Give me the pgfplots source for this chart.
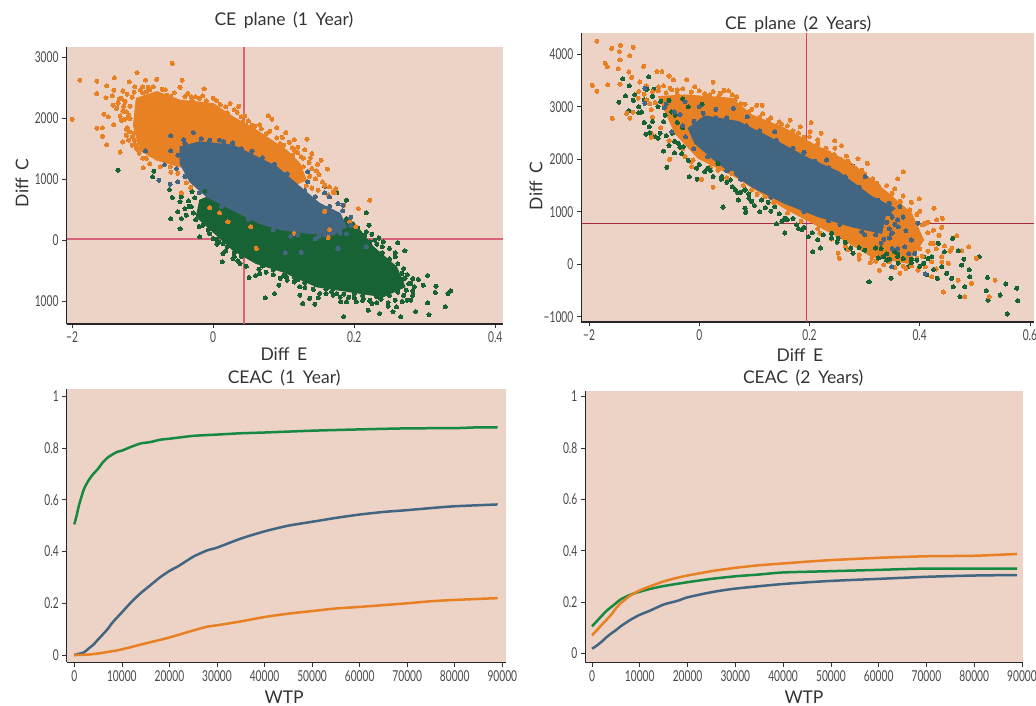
\documentclass[border=0pt]{standalone}
\usepackage{pgfplots}
\pgfplotsset{compat=1.18}
\usepackage{fontspec}
\setmainfont{Lato}[WordSpace=1.7]
\newfontfamily\tickf[FakeStretch=0.68]{Lato}
\definecolor{bg}{HTML}{EDD2C6}
\definecolor{org}{HTML}{E88024}
\definecolor{blu}{HTML}{426682}
\definecolor{grn}{HTML}{186335}
\definecolor{lgrn}{HTML}{158A40}
\definecolor{txt}{HTML}{333333}
\definecolor{refa}{HTML}{D9627E}
\definecolor{refb}{HTML}{D6405F}
\definecolor{refc}{HTML}{A82A40}
\pgfplotsset{
  every axis title shift=0pt,
  base/.style={scale only axis, axis x line*=bottom, axis y line*=left,
    axis line style={black!85,line width=1.1pt,-}, tick style={black!80,line width=0.7pt},
    tick align=outside, major tick length=4.5pt, clip=true,
    axis background/.style={fill=bg},
    tick label style={font=\tickf\fontsize{15}{15}\selectfont,text=txt!90},
    xtick pos=bottom, ytick pos=left, scaled ticks=false,
    title style={font=\fontsize{17.5}{19}\selectfont,text=txt,anchor=center},
    xlabel style={font=\fontsize{17.5}{19}\selectfont,text=txt,anchor=center},
    ylabel style={font=\fontsize{17.5}{19}\selectfont,text=txt,anchor=center}},
  pts/.style={only marks,color=#1,mark=*,mark size=2.05pt,mark options={solid,draw=#1,fill=#1,line width=0pt}},
  cloud/.style={fill=#1,draw=#1,line width=1pt,forget plot},
  curve/.style={color=#1,line width=2.5pt,no marks,smooth,tension=0.4},
  ceac/.style={base,xmin=-1600,xmax=90770,ymin=-0.028,ymax=1.027,
    xtick={0,10000,...,90000},xticklabels={0,10000,20000,30000,40000,50000,60000,70000,80000,90000},
    ytick={0,0.2,0.4,0.6,0.8,1},yticklabels={0,0.2,0.4,0.6,0.8,1},xlabel={WTP}}
}
\begin{document}
\begin{tikzpicture}[x=1pt,y=1pt]
\useasboundingbox (0,0) rectangle (1036,706);
% Where a cloud is saturated its single points cannot be read, so the solid core
% is an area in data coordinates; points visible around it are plotted one by one.
\begin{axis}[base,at={(66.5pt,382pt)},anchor=south west,width=436.5pt,height=277pt,
  xmin=-0.208,xmax=0.411,ymin=-1369,ymax=3172,
  xtick={-0.2,0,0.2,0.4},xticklabels={−2,0,0.2,0.4},
  ytick={-1000,0,1000,2000,3000},yticklabels={1000,0,1000,2000,3000},
  title={CE plane (1 Year)},title style={at={(axis description cs:0.498,1.095)}},
  xlabel={Diff E},xlabel style={at={(axis description cs:0.498,-0.108)}},
  ylabel={Diff C},ylabel style={at={(axis description cs:-0.102,0.509)}}]
\addplot[refa,line width=1.3pt,forget plot] coordinates {(0.0435,-1369)(0.0435,3172)};
\addplot[refa,line width=1.1pt,forget plot] coordinates {(-0.208,25)(0.411,25)};
\addplot[cloud=grn] coordinates {(-0.019,661)(0.010,800)(0.080,600)(0.199,300)(0.227,-104)(0.260,-432)(0.272,-760)(0.241,-923)(0.194,-841)(0.147,-760)(0.099,-514)(0.061,-377)(0.028,-158)(0.005,87)(-0.024,388)} --cycle;
\addplot[pts=grn] coordinates {(-0.135,1153)(-0.084,1135)(-0.086,1045)(-0.062,835)(-0.058,705)(-0.047,635)(-0.050,470)(-0.060,355)(-0.045,360)(-0.047,190)(-0.038,415)(-0.031,550)(-0.019,60)(-0.007,170)(0,33)(0.014,-213)(0.013,-350)(0.028,-295)(0.047,-420)(0.051,-606)(0.060,-574)(0.074,-940)(0.087,-869)(0.093,-732)(0.123,-896)(0.127,-1033)(0.144,-1044)(0.149,-940)(0.137,-950)(0.170,-896)(0.181,-1005)(0.185,-1246)(0.203,-1005)(0.225,-1033)(0.220,-1142)(0.236,-1197)(0.248,-1076)(0.260,-1087)(0.255,-1170)(0.266,-1251)(0.280,-978)(0.287,-1164)(0.306,-1218)(0.304,-1022)(0.329,-1087)(0.333,-869)(0.337,-825)(0.315,-852)(0.316,-748)(0.304,-574)(0.298,-732)(0.291,-639)(0.283,-623)(0.272,-170)(0.262,-38)(0.258,-268)(0.241,-22)(0.229,5)(0.217,142)(0.221,251)(0.217,454)(0.189,661)(0.175,781)(0.158,890)(0.189,360)(0.274,-814)(0.270,-459)(0.277,-705)(0.262,-760)(0.248,-760)(0.232,-923)(0.213,-951)(0.189,-1005)(0.175,-869)(0.151,-869)(0.123,-760)(0.104,-596)(0.066,-541)(0.038,-377)(0.014,-49)
(0.030,-200)(0.040,-260)(0.055,-300)(0.070,-420)(0.085,-480)(0.100,-570)(0.115,-600)(0.130,-690)(0.145,-720)(0.160,-800)(0.172,-780)(0.185,-880)(0.200,-870)(0.212,-900)(0.225,-860)(0.238,-960)(0.250,-900)(0.262,-850)(0.270,-900)(0.283,-820)(0.280,-700)(0.272,-620)(0.268,-540)(0.262,-380)(0.250,-300)(0.240,-200)(0.232,-60)(0.222,-20)(0.205,100)(0.208,30)(0.018,250)(0.010,150)(0.002,240)(-0.010,300)(-0.020,230)(-0.028,450)(-0.034,560)(-0.026,700)(-0.012,620)(0.000,500)(0.008,-30)(0.020,-110)(0.005,20)(0.045,-210)(0.080,-380)(0.120,-640)(0.155,-740)(0.210,-800)(0.245,-700)(0.275,-560)
(0.285,-760)(0.283,-900)(0.275,-980)(0.268,-1000)(0.258,-980)(0.248,-1020)(0.232,-1020)(0.222,-980)(0.212,-980)(0.200,-940)(0.192,-930)(0.180,-930)(0.168,-840)(0.160,-870)(0.142,-800)(0.130,-770)(0.115,-680)(0.105,-650)(0.095,-620)(0.085,-560)(0.075,-520)(0.065,-470)(0.240,-580)(0.255,-560)(0.268,-640)(0.245,-400)(0.258,-200)(0.240,-100)(0.250,-130)(0.235,40)(0.225,100)(0.215,90)(0.205,200)(-0.040,520)(-0.035,650)(-0.045,720)(-0.030,800)(-0.020,780)(-0.012,810)(-0.025,340)(-0.015,250)(-0.005,110)(0.005,-60)(0.018,-170)(0.030,-260)(0.035,-330)};
\addplot[cloud=org] coordinates {(-0.113,1890)(-0.109,2330)(-0.080,2440)(-0.047,2300)(0,2245)(0.028,2027)(0.061,1810)(0.104,1480)(0.123,1260)(0.132,990)(0.109,880)(-0.047,1207)(-0.080,1317)(-0.104,1480)} --cycle;
\addplot[pts=org] coordinates {(-0.200,1985)(-0.189,2630)(-0.165,2610)(-0.165,2410)(-0.151,2535)(-0.140,2670)(-0.141,2465)(-0.152,2340)(-0.143,2370)(-0.133,2320)(-0.119,2600)(-0.111,2520)(-0.108,2750)(-0.096,2630)(-0.080,2640)(-0.092,2510)(-0.128,2450)(-0.142,2220)(-0.137,2165)(-0.127,2200)(-0.155,2070)(-0.149,2030)(-0.165,1840)(-0.157,1850)(-0.141,1900)(-0.130,1970)(-0.123,2110)(-0.157,1710)(-0.151,1570)(-0.123,1725)(-0.128,1615)(-0.120,1645)(-0.132,1450)(-0.105,1430)(-0.099,1190)(-0.095,1345)(-0.058,2905)(-0.044,2630)(-0.047,2510)(-0.013,2485)(-0.031,2355)(0,2330)(0.024,2245)(0.036,2200)(0.045,2045)(0.078,2045)(0.083,1990)(0.059,1875)(0.090,1850)(0.103,1770)(0.115,1655)(0.133,1660)(0.140,1425)(0.153,1315)(0.162,1170)(0.146,1140)(0.158,905)(0.149,825)(0.163,745)(0.174,850)(0.222,660)(0.206,525)(0.194,305)(0.185,580)(0.202,225)(0.158,480)(-0.005,540)(0.009,455)(0.021,305)(0.061,-130)(0.053,225)(0.115,115)(0.163,50)(0.165,180)(-0.045,780)(-0.038,945)(-0.061,1210)(-0.057,1370)(-0.085,1425)(0.076,1645)(0.095,1590)(0.113,1400)(0.128,1210)(0.047,1890)(0.014,2080)(-0.019,2330)(-0.066,2380)(-0.095,2440)
(-0.118,2000)(-0.122,1850)(-0.118,2200)(-0.115,2350)(-0.100,2420)(-0.090,2470)(-0.072,2480)(-0.060,2360)(-0.040,2360)(-0.030,2300)(-0.010,2290)(0.010,2230)(0.020,2090)(0.034,2100)(0.042,1950)(0.055,1890)(0.068,1830)(0.075,1750)(0.090,1680)(0.100,1560)(0.112,1520)(0.120,1440)(0.128,1350)(0.136,1280)(0.140,1180)(0.137,1050)(0.115,1480)(-0.110,1560)(-0.115,1700)(-0.100,1350)(-0.090,1260)(-0.075,1210)(-0.060,1120)(-0.050,1100)(-0.040,1050)(-0.032,870)(0.125,1370)
(-0.135,2250)(-0.130,2330)(-0.125,2280)(-0.128,2120)(-0.120,2050)(-0.125,1990)(-0.132,2040)(-0.118,1780)(-0.123,1820)(-0.112,1640)(-0.115,1560)(-0.108,1500)(-0.122,2400)(-0.112,2430)(-0.103,2470)(-0.112,1760)(-0.100,2520)(-0.085,2520)(-0.068,2470)(-0.055,2420)(-0.036,2410)(-0.025,2360)(-0.015,2370)(0.005,2290)(0.018,2190)(0.030,2140)(0.040,2030)(0.050,1960)(0.066,1900)(0.080,1790)(0.098,1690)(0.108,1610)(0.120,1530)(0.130,1490)(0.138,1360)(0.148,1250)(0.150,1080)(0.145,1010)(0.155,960)(0.165,880)(0.170,800)(0.172,780)(0.140,860)(0.132,900)};
\addplot[cloud=blu] coordinates {(-0.047,1535)(-0.019,1617)(0.028,1563)(0.057,1399)(0.090,1208)(0.123,880)(0.151,607)(0.180,443)(0.189,224)(0.170,87)(0.137,115)(0.099,170)(0.066,279)(0.028,497)(-0.009,716)(-0.033,962)(-0.047,1262)} --cycle;
\addplot[pts=blu] coordinates {(-0.060,1715)(-0.028,1770)(-0.096,1470)(-0.077,990)(-0.061,925)(-0.050,960)(-0.069,1245)(-0.060,1470)(-0.042,1655)(-0.017,1670)(0.009,1645)(0.028,1600)(0.055,1465)(0.087,1250)(0.134,1130)(0.134,960)(0.158,780)(0.165,715)(0.184,580)(0.184,485)(0.177,605)(0.102,-200)(0.125,-195)(0.177,-130)(0.217,-105)(0.158,90)(0.189,115)(0.173,225)
(-0.040,1590)(-0.005,1640)(0.015,1620)(0.040,1500)(0.070,1360)(0.105,1090)(0.130,820)(0.145,720)(0.165,560)(0.195,380)(0.195,250)(0.180,120)(0.150,60)(0.120,90)(0.085,180)(0.050,350)(0.012,560)(-0.020,780)(-0.040,1050)(-0.052,1180)(-0.050,1400)(0.110,70)(0.145,30)};
\end{axis}
\begin{axis}[base,at={(581.3pt,384pt)},anchor=south west,width=452.7pt,height=289pt,
  xmin=-0.2142,xmax=0.6075,ymin=-1098,ymax=4403,
  xtick={-0.2,0,0.2,0.4,0.6},xticklabels={−2,0,0.2,0.4,0.6},
  ytick={-1000,0,1000,2000,3000,4000},yticklabels={−1000,0,1000,2000,3000,4000},
  title={CE plane (2 Years)},title style={at={(axis description cs:0.479,1.031)}},
  xlabel={Diff E},xlabel style={at={(axis description cs:0.483,-0.114)}},
  ylabel={Diff C},ylabel style={at={(axis description cs:-0.100,0.471)}}]
\addplot[refb,line width=0.9pt,forget plot] coordinates {(0.195,-1098)(0.195,4403)};
\addplot[refc,line width=0.9pt,forget plot] coordinates {(-0.2142,780)(0.6075,780)};
\addplot[pts=grn] coordinates {(-0.139,3530)(-0.127,3400)(-0.092,3570)(-0.134,3205)(-0.117,3225)(-0.146,3085)(-0.128,2925)(-0.110,2885)(-0.083,3330)(-0.100,3130)(-0.097,2475)(-0.091,2620)(-0.071,2495)(-0.080,2430)(-0.065,2715)(-0.062,2840)(-0.044,2840)(-0.049,2495)(-0.038,2305)(-0.029,2240)(-0.065,2155)(-0.059,1845)(-0.032,2110)(-0.018,1670)(-0.004,1620)(0.010,1765)(0.025,1670)(0.034,1920)(0.041,1670)(0.056,1605)(0.065,1415)(0.083,1415)(0.071,1225)(0.083,1065)(0.084,990)(0.043,1090)(0.113,1225)(0.110,1000)(0.137,1100)(0.140,770)(0.155,875)(0.155,595)(0.177,750)(0.186,655)(0.198,525)(0.206,240)(0.220,310)(0.240,590)(0.252,495)(0.267,305)(0.279,210)(0.308,-335)(0.348,-265)(0.334,145)(0.355,240)(0.361,20)(0.379,-45)(0.407,20)(0.413,-200)(0.432,-265)(0.434,400)(0.460,495)(0.449,-170)(0.458,-265)(0.461,-425)(0.482,-425)(0.491,-235)(0.473,-615)(0.508,145)(0.476,-15)(0.523,-250)(0.521,-500)(0.524,-680)(0.546,-585)(0.556,-375)(0.576,-455)(0.578,-690)(0.559,-945)(0.422,145)(0.407,145)(0.279,1870)};
\addplot[cloud=org] coordinates {(-0.074,3192)(-0.026,3223)(0.059,3160)(0.095,2843)(0.155,2589)(0.204,2303)(0.276,1923)(0.343,1351)(0.385,971)(0.407,463)(0.379,19)(0.313,146)(0.252,527)(0.155,1066)(0.065,1669)(-0.002,2018)(-0.044,2494)} --cycle;
\addplot[pts=org] coordinates {(-0.186,4245)(-0.159,4110)(-0.143,4170)(-0.120,4130)(-0.145,4050)(-0.126,3970)(-0.144,3890)(-0.171,3825)(-0.167,3760)(-0.147,3725)(-0.128,3660)(-0.101,3770)(-0.077,3670)(-0.068,3670)(-0.123,3560)(-0.194,3405)(-0.186,3295)(-0.166,3415)(-0.144,3430)(-0.108,3470)(-0.096,3395)(-0.074,3380)(-0.055,3585)(-0.047,3510)(-0.053,3350)(-0.040,3320)(-0.023,3510)(0.025,3465)(-0.008,3380)(-0.158,2780)(-0.132,2875)(-0.120,2895)(-0.126,2780)(-0.111,3160)(-0.099,3350)(-0.087,2420)(-0.054,2000)(-0.011,1985)(0.004,1620)(0.025,1470)(0.053,3305)(0.038,3255)(0.019,3225)(0.068,3190)(0.083,3045)(0.104,3025)(0.114,3025)(0.125,2745)(0.149,2670)(0.165,2745)(0.183,2620)(0.203,2700)(0.201,2525)(0.221,2495)(0.246,2355)(0.258,2260)(0.267,2060)(0.246,2210)(0.288,2010)(0.305,1920)(0.279,1860)(0.370,1760)(0.360,1625)(0.322,1540)(0.399,1245)(0.426,1070)(0.441,875)(0.431,845)(0.440,705)(0.410,780)(0.382,1035)(0.467,545)(0.425,400)(0.489,335)(0.476,260)(0.458,305)(0.440,145)(0.452,20)(0.422,-235)(0.443,-527)(0.482,-615)(0.470,-300)(0.494,-360)(0.537,-300)(0.526,-615)(0.503,115)(0.422,50)(0.397,-110)(0.364,-170)(0.327,-115)(0.313,115)(0.252,210)(0.254,115)(0.219,590)(0.168,1035)(0.119,1290)(0.095,1415)(0.059,1730)(0.034,1795)(-0.014,1860)(-0.026,2050)(-0.087,2940)(-0.087,2495)
(-0.080,3080)(-0.060,3260)(-0.040,3240)(-0.015,3280)(0.010,3250)(0.035,3200)(0.060,3230)(0.075,2960)(0.090,2900)(0.110,2800)(0.125,2720)(0.140,2640)(0.170,2540)(0.190,2420)(0.215,2290)(0.235,2120)(0.255,2000)(0.285,1820)(0.300,1720)(0.325,1500)(0.350,1350)(0.365,1200)(0.395,950)(0.405,750)(0.415,600)(0.420,400)(0.400,300)(0.395,120)(0.370,-40)(0.345,50)(0.320,60)(0.290,180)(0.265,350)(0.240,480)(0.215,680)(0.185,820)(0.160,980)(0.135,1170)(0.105,1330)(0.080,1500)(0.050,1650)(0.020,1850)(-0.015,1950)(-0.030,2200)(-0.055,2350)(-0.070,2600)(-0.085,2800)
(-0.110,3290)(-0.100,3240)(-0.095,3130)(-0.090,3060)(-0.085,3290)(-0.075,3300)(-0.065,3400)(-0.050,3320)(-0.030,3340)(0.000,3300)(0.025,3290)(0.045,3310)(0.065,3120)(0.075,3060)(0.095,2950)(0.115,2870)(0.130,2790)(0.145,2710)(0.160,2640)(0.180,2500)(0.200,2430)(0.215,2370)(0.230,2210)(0.245,2090)(0.270,1960)(0.295,1790)(0.315,1630)(0.340,1500)(0.355,1440)(0.370,1300)(0.385,1180)(0.400,1010)(0.415,800)(0.425,650)(0.435,550)(0.430,300)(0.415,250)(0.405,150)(0.385,-30)(0.375,-80)(0.355,-60)(0.335,-10)(0.310,30)(0.290,100)(0.270,280)(0.445,350)(0.455,250)(0.410,-50)(0.430,-90)(0.440,40)};
\addplot[pts=grn] coordinates {(-0.065,2715)(-0.044,2840)(-0.038,2305)(-0.029,2240)(0.041,1670)(0.065,1415)(0.083,1415)(0.113,1225)(0.155,875)(0.186,655)(0.252,495)(0.334,145)(0.355,240)(0.407,20)
(0.000,1900)(0.015,1830)(0.050,1560)(0.075,1370)(0.090,1340)(0.095,1200)(0.125,1180)(0.130,1010)(0.145,960)(0.160,850)(0.170,870)(0.190,700)(0.205,600)(0.225,560)(0.240,500)(0.265,420)(0.290,320)(0.320,310)(0.340,200)(0.370,110)(0.395,80)(-0.045,2340)(-0.035,2230)(-0.060,2450)(-0.085,2720)(-0.105,2900)(-0.075,3000)(-0.055,3120)(-0.030,3150)
(0.385,30)(0.400,-40)(0.415,110)(0.425,-100)(0.440,-50)(0.445,240)(0.470,260)(0.480,100)(0.490,-100)(0.360,150)(0.345,100)(0.325,120)(0.300,270)(0.275,310)(0.250,420)(0.215,470)(0.180,680)(0.150,820)(0.120,1080)(0.100,1120)(0.090,1260)(0.070,1360)(0.060,1480)(0.040,1620)(0.020,1790)(-0.005,1830)(-0.020,1980)(-0.045,2120)(-0.055,2260)(-0.075,2400)(-0.090,2500)(-0.100,2700)(-0.110,3000)(-0.120,3120)(-0.095,3330)(-0.085,3200)(-0.070,3100)
(-0.040,2700)(-0.030,2600)(-0.050,2900)(-0.020,3000)(0.005,3050)(0.330,300)(0.340,80)(0.360,200)(0.385,100)};
\addplot[cloud=blu] coordinates {(-0.020,2589)(0.010,2824)(0.071,2716)(0.125,2430)(0.198,2018)(0.252,1764)(0.313,1288)(0.355,1066)(0.337,907)(0.331,590)(0.276,717)(0.216,907)(0.155,1161)(0.095,1478)(0.034,1923)(-0.008,2303)} --cycle;
\addplot[pts=blu] coordinates {(-0.064,2980)(-0.099,3350)(-0.099,3065)(0.062,2970)(0.087,2810)(0.190,2130)(0.364,1100)(0.397,780)(0.361,717)(0.385,463)(0.349,-45)(0.410,-185)(-0.050,2525)(-0.026,3095)(0.007,2875)(0.137,2525)(0.231,1985)(0.301,1670)(0.349,590)(0.373,335)(0.391,210)
(-0.030,2640)(-0.010,2720)(0.030,2790)(0.050,2790)(0.085,2640)(0.110,2540)(0.140,2360)(0.170,2210)(0.210,1960)(0.235,1840)(0.265,1670)(0.290,1470)(0.325,1220)(0.345,1160)(0.345,960)(0.340,800)(0.345,680)(0.320,650)(0.295,620)(0.255,760)(0.235,830)(0.190,1000)(0.130,1280)(0.075,1620)(0.050,1780)(0.015,2050)(-0.010,2200)(-0.025,2430)
(0.350,900)(0.360,850)(0.355,760)(0.350,600)(0.345,500)(0.370,900)(0.375,640)(0.335,480)(0.320,560)(0.300,560)(-0.045,2900)(-0.035,2850)(-0.060,3050)(0.000,3000)(0.030,2950)(0.360,300)(0.380,200)(0.350,300)(0.330,400)};
\end{axis}
\begin{axis}[ceac,at={(66.7pt,43.7pt)},anchor=south west,width=439.3pt,height=273pt,
  title={CEAC (1 Year)},title style={at={(axis description cs:0.495,1.041)}},
  xlabel style={at={(axis description cs:0.495,-0.127)}}]
\addplot[curve=lgrn] coordinates {(0,0.505)(500,0.54)(1000,0.58)(2000,0.64)(3000,0.675)(4000,0.70)(5000,0.72)(6000,0.745)(7000,0.763)(8000,0.775)(9000,0.785)(10000,0.79)(12000,0.805)(14000,0.818)(16000,0.823)(18000,0.832)(20000,0.836)(25000,0.847)(30000,0.852)(35000,0.857)(40000,0.860)(50000,0.867)(60000,0.872)(70000,0.876)(80000,0.877)(85000,0.880)(89000,0.880)};
\addplot[curve=blu] coordinates {(0,0)(1000,0.005)(2000,0.01)(3000,0.025)(4000,0.04)(5000,0.06)(6000,0.08)(7000,0.10)(8000,0.125)(10000,0.165)(12000,0.205)(14000,0.24)(16000,0.27)(18000,0.30)(20000,0.325)(22000,0.345)(25000,0.38)(28000,0.405)(30000,0.415)(35000,0.45)(40000,0.478)(45000,0.50)(50000,0.515)(55000,0.53)(60000,0.543)(65000,0.553)(70000,0.56)(75000,0.568)(80000,0.575)(89000,0.582)};
\addplot[curve=org] coordinates {(0,0)(3000,0.002)(5000,0.006)(8000,0.015)(10000,0.022)(15000,0.045)(20000,0.068)(25000,0.095)(28000,0.11)(30000,0.115)(35000,0.13)(40000,0.147)(45000,0.16)(50000,0.17)(55000,0.18)(60000,0.186)(65000,0.193)(70000,0.20)(75000,0.208)(80000,0.213)(89000,0.22)};
\end{axis}
\begin{axis}[ceac,at={(585.3pt,43.7pt)},anchor=south west,width=437.4pt,height=271.6pt,
  xmin=-1400,xmax=90150,ymin=-0.035,ymax=1.023,
  title={CEAC (2 Years)},title style={at={(axis description cs:0.498,1.047)}},
  xlabel style={at={(axis description cs:0.5,-0.128)}}]
\addplot[curve=lgrn] coordinates {(0,0.105)(1000,0.125)(2000,0.145)(3000,0.165)(4000,0.18)(5000,0.195)(6000,0.21)(8000,0.228)(10000,0.24)(12000,0.25)(15000,0.262)(20000,0.277)(25000,0.29)(30000,0.30)(35000,0.307)(40000,0.315)(50000,0.32)(60000,0.325)(70000,0.33)(89000,0.33)};
\addplot[curve=blu] coordinates {(0,0.018)(1000,0.03)(2000,0.045)(3000,0.062)(4000,0.077)(5000,0.09)(6000,0.105)(8000,0.13)(10000,0.15)(12000,0.165)(15000,0.19)(18000,0.205)(20000,0.218)(25000,0.238)(30000,0.252)(40000,0.27)(50000,0.282)(60000,0.29)(70000,0.298)(80000,0.303)(89000,0.305)};
\addplot[curve=org] coordinates {(0,0.07)(1000,0.09)(2000,0.11)(3000,0.13)(4000,0.15)(5000,0.175)(6000,0.195)(7000,0.21)(8000,0.225)(10000,0.245)(12000,0.26)(15000,0.28)(18000,0.295)(20000,0.303)(25000,0.32)(30000,0.333)(35000,0.343)(40000,0.35)(45000,0.357)(50000,0.363)(60000,0.372)(70000,0.378)(80000,0.38)(89000,0.387)};
\end{axis}
\end{tikzpicture}
\end{document}
